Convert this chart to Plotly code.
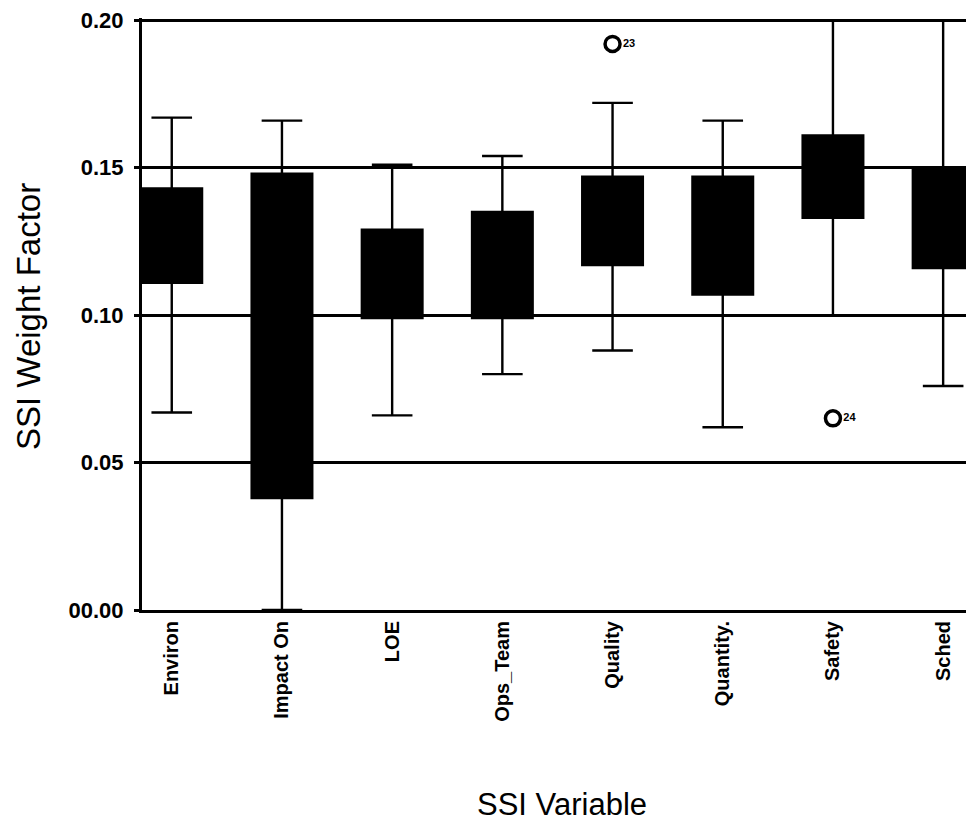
import plotly.graph_objects as go

categories = ["Environ", "Impact On", "LOE", "Ops_Team", "Quality", "Quantity.", "Safety", "Sched"]
lower_whisker = [0.067, 0.000, 0.066, 0.080, 0.088, 0.062, 0.100, 0.076]
q1_values = [0.111, 0.038, 0.099, 0.099, 0.117, 0.107, 0.133, 0.116]
median_values = [0.128, 0.100, 0.115, 0.117, 0.132, 0.128, 0.146, 0.133]
q3_values = [0.143, 0.148, 0.129, 0.135, 0.147, 0.147, 0.161, 0.150]
upper_whisker = [0.167, 0.166, 0.151, 0.154, 0.172, 0.166, 0.200, 0.200]

outlier_cats = ["Quality", "Safety"]
outlier_vals = [0.192, 0.065]
outlier_ids = ["23", "24"]

y_tickvals = [0, 0.05, 0.10, 0.15, 0.20]
y_ticktext = ["00.00", "0.05", "0.10", "0.15", "0.20"]

font_family = "Liberation Sans, Arial, sans-serif"

# page has an 8px body margin; figure sized to fit the 974x821 window
OFF = 8
W, H = 974 - OFF, 821 - OFF
ML, MR, MT = 142 - OFF, 0, 18 - OFF
MB = H - (610 - OFF)

fig = go.Figure()
fig.add_trace(go.Box(
    x=categories,
    q1=q1_values, median=median_values, q3=q3_values,
    lowerfence=lower_whisker, upperfence=upper_whisker,
    fillcolor="black",
    line=dict(color="black", width=2.4),
    width=0.55,
    whiskerwidth=0.67,
    boxpoints=False,
    showlegend=False,
))
fig.add_trace(go.Scatter(
    x=outlier_cats, y=outlier_vals,
    mode="markers+text",
    text=outlier_ids,
    textposition="middle right",
    textfont=dict(family=font_family, size=11, color="black", weight="bold"),
    marker=dict(symbol="circle-open", size=15, color="black", line=dict(width=3.5, color="black")),
    showlegend=False,
    cliponaxis=False,
))

pw = W - ML - MR
ph = H - MT - MB


def px_x(p):
    return (p - OFF - ML) / pw


def px_y(p):
    return (H - MB - (p - OFF)) / ph


fig.update_layout(
    width=W, height=H,
    margin=dict(l=ML, r=MR, t=MT, b=MB),
    paper_bgcolor="white", plot_bgcolor="white",
    font=dict(family=font_family, color="black"),
    xaxis=dict(
        range=[-0.27, 7.28],
        tickangle=-90,
        tickfont=dict(family=font_family, size=20, color="black", weight="bold"),
        showline=True, linecolor="black", linewidth=3,
        showgrid=False, zeroline=False,
        ticks="", ticklen=0,
        automargin=False,
    ),
    yaxis=dict(
        range=[0, 0.2008],
        tickvals=y_tickvals,
        ticktext=y_ticktext,
        tickfont=dict(family=font_family, size=22, color="black", weight="bold"),
        showline=True, linecolor="black", linewidth=3,
        showgrid=True, gridcolor="black", gridwidth=2.5,
        zeroline=False,
        ticks="outside", ticklen=5, tickwidth=3, tickcolor="black",
        ticklabelstandoff=6,
        automargin=False,
    ),
    annotations=[
        dict(text="SSI Variable", xref="paper", yref="paper",
             x=px_x(562), y=px_y(804),
             xanchor="center", yanchor="middle", showarrow=False,
             font=dict(family=font_family, size=31, color="black")),
        dict(text="SSI Weight Factor", xref="paper", yref="paper",
             x=px_x(28), y=px_y(316), textangle=-90,
             xanchor="center", yanchor="middle", showarrow=False,
             font=dict(family=font_family, size=33, color="black")),
    ],
)

fig.write_html("out.html")
